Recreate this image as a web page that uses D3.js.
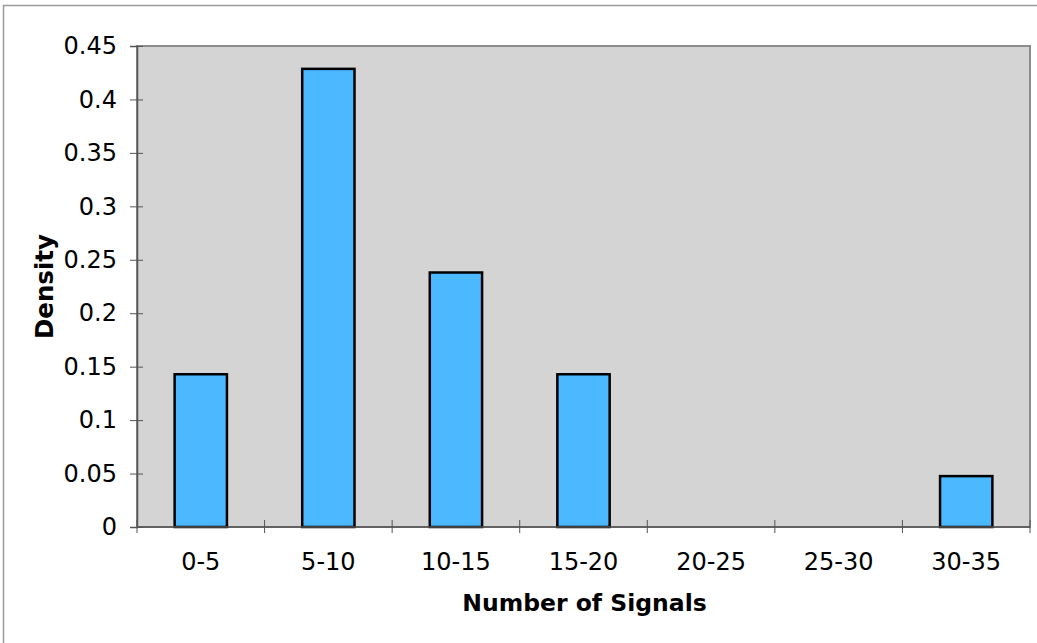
<!DOCTYPE html>
<html>
<head>
<meta charset="utf-8">
<script src="https://cdn.jsdelivr.net/npm/d3@7"></script>
<style>
  html, body { margin: 0; padding: 0; background: #fff; }
  svg { display: block; }
  text { font-family: "DejaVu Sans", Verdana, sans-serif; fill: #000; }
</style>
</head>
<body>
<svg id="chart" width="1037" height="643"></svg>
<script>
// Histogram of signal counts, shown as density per bin
const categories = ["0-5", "5-10", "10-15", "15-20", "20-25", "25-30", "30-35"];
const density = [0.1429, 0.4286, 0.2381, 0.1429, 0, 0, 0.0476];
const yTicks = [0, 0.05, 0.1, 0.15, 0.2, 0.25, 0.3, 0.35, 0.4, 0.45];
const yTickLabels = ["0", "0.05", "0.1", "0.15", "0.2", "0.25", "0.3", "0.35", "0.4", "0.45"];

const svg = d3.select("#chart");
const W = 1037, H = 643;
const plot = { left: 137, top: 46, right: 1030, bottom: 527 };
const FONT = 24;

// outer frame lines
svg.append("line").attr("x1", 3).attr("x2", W).attr("y1", 5.5).attr("y2", 5.5)
  .attr("stroke", "#9a9a9a").attr("stroke-width", 1.5);
svg.append("line").attr("x1", 3.5).attr("x2", 3.5).attr("y1", 5).attr("y2", H)
  .attr("stroke", "#9a9a9a").attr("stroke-width", 1.5);

const x = d3.scaleBand().domain(categories).range([plot.left, plot.right]).paddingInner(0).paddingOuter(0);
const y = d3.scaleLinear().domain([0, 0.45]).range([plot.bottom, plot.top]);

// plot background
svg.append("rect")
  .attr("x", plot.left).attr("y", plot.top)
  .attr("width", plot.right - plot.left).attr("height", plot.bottom - plot.top)
  .attr("fill", "#d4d4d4")
  .attr("stroke", "#8c8c8c").attr("stroke-width", 2);

// bars
const barW = x.bandwidth() * 0.41;
svg.append("g").selectAll("rect")
  .data(categories.map((c, i) => ({ c, v: density[i] })).filter(d => d.v > 0))
  .join("rect")
  .attr("x", d => x(d.c) + (x.bandwidth() - barW) / 2)
  .attr("y", d => y(d.v))
  .attr("width", barW)
  .attr("height", d => y(0) - y(d.v))
  .attr("fill", "#4cb8ff")
  .attr("stroke", "#000").attr("stroke-width", 2.5);

// y axis
const yAxis = d3.axisLeft(y).tickValues(yTicks)
  .tickFormat((d, i) => yTickLabels[i]).tickSize(7).tickPadding(13);
const gy = svg.append("g").attr("transform", `translate(${plot.left},0)`).call(yAxis);
gy.attr("font-size", null).attr("font-family", null);
gy.select(".domain").attr("stroke", "#555").attr("stroke-width", 1.5);
gy.selectAll(".tick line").attr("stroke", "#555").attr("x2", -7).attr("x1", 6);
gy.selectAll(".tick text").style("font-size", FONT + "px");

// x axis: ticks on bin boundaries, labels centred under bins
const gx = svg.append("g").attr("transform", `translate(0,${plot.bottom})`);
gx.append("line").attr("x1", plot.left).attr("x2", plot.right).attr("y1", 0).attr("y2", 0)
  .attr("stroke", "#555").attr("stroke-width", 1.5);
const bounds = categories.map(c => x(c)).concat([plot.right]);
gx.selectAll("line.tk").data(bounds).join("line").attr("class", "tk")
  .attr("x1", d => d).attr("x2", d => d).attr("y1", -7).attr("y2", 6)
  .attr("stroke", "#555").attr("stroke-width", 1);
gx.selectAll("text").data(categories).join("text")
  .attr("x", d => x(d) + x.bandwidth() / 2)
  .attr("y", 43)
  .attr("text-anchor", "middle")
  .style("font-size", FONT + "px")
  .text(d => d);

// axis titles
svg.append("text")
  .attr("x", (plot.left + plot.right) / 2 + 1).attr("y", 611)
  .attr("text-anchor", "middle").style("font-size", "23.5px").attr("font-weight", "bold")
  .text("Number of Signals");
svg.append("text")
  .attr("transform", `translate(53,${(plot.top + plot.bottom) / 2}) rotate(-90)`)
  .attr("text-anchor", "middle").style("font-size", "24.5px").attr("font-weight", "bold")
  .text("Density");
</script>
</body>
</html>
